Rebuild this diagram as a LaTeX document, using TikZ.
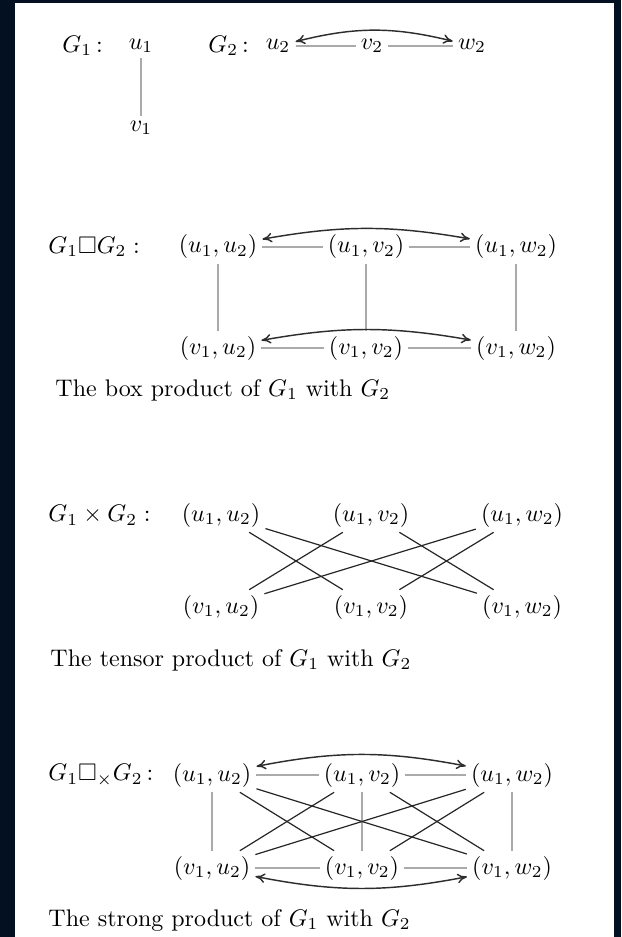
\documentclass[tikz,border=0pt]{standalone}
\usepackage{amssymb}
\usetikzlibrary{arrows.meta}
\definecolor{navy}{RGB}{2,16,33}
\definecolor{edgegray}{RGB}{170,170,170}
\definecolor{arcdark}{RGB}{45,45,45}
\begin{document}
\begin{tikzpicture}[x=0.41667pt,y=-0.41667pt,
  vx/.style={inner sep=2pt},
  lab/.style={anchor=west,inner sep=0pt},
  plain/.style={draw=edgegray,line width=0.6pt},
  arcedge/.style={draw=arcdark,line width=0.6pt,{To[length=4pt,width=4pt]}-{To[length=4pt,width=4pt]}},
  diag/.style={draw=black!85,line width=0.5pt}]
\fill[navy] (0,0) rectangle (621,937);
\fill[white] (15,3) rectangle (614,937);
\useasboundingbox (0,0) rectangle (621,937);

% Section 1: G1 and G2
\node[lab] (g1) at (62,46) {$G_1$\,:};
\node[vx] (a1) at (141,46) {$u_1$};
\node[vx] (b1) at (141,128) {$v_1$};
\node[lab] (g2) at (208,46) {$G_2$\,:};
\node[vx] (a2) at (278,46) {$u_2$};
\node[vx] (b2) at (372,46) {$v_2$};
\node[vx] (c2) at (472,46) {$w_2$};
\draw[plain] (a1) -- (b1);
\draw[plain] (a2) -- (b2);
\draw[plain] (b2) -- (c2);
\draw[arcedge] (a2) to[bend left=14] (c2);

% Section 2: box product
\node[lab] (gb) at (48,247) {$G_1\square G_2:$};
\node[vx] (bu1) at (218,247) {$(u_1,u_2)$};
\node[vx] (bu2) at (366,247) {$(u_1,v_2)$};
\node[vx] (bu3) at (516,247) {$(u_1,w_2)$};
\node[vx] (bv1) at (218,348) {$(v_1,u_2)$};
\node[vx] (bv2) at (366,348) {$(v_1,v_2)$};
\node[vx] (bv3) at (516,348) {$(v_1,w_2)$};
\draw[plain] (bu1) -- (bu2);
\draw[plain] (bu2) -- (bu3);
\draw[plain] (bv1) -- (bv2);
\draw[plain] (bv2) -- (bv3);
\draw[plain] (bu1) -- (bv1);
\draw[plain] (bu2) -- (bv2);
\draw[plain] (bu3) -- (bv3);
\draw[arcedge] (bu1) to[bend left=10] (bu3);
\draw[arcedge] (bv1) to[bend left=10] (bv3);
\node[lab] (cb) at (55,390) {The box product of $G_1$ with $G_2$};

% Section 3: tensor product
\node[lab] (gt) at (48,515) {$G_1\times G_2:$};
\node[vx] (tu1) at (221,515) {$(u_1,u_2)$};
\node[vx] (tu2) at (371,515) {$(u_1,v_2)$};
\node[vx] (tu3) at (522,515) {$(u_1,w_2)$};
\node[vx] (tv1) at (221,607) {$(v_1,u_2)$};
\node[vx] (tv2) at (371,607) {$(v_1,v_2)$};
\node[vx] (tv3) at (522,607) {$(v_1,w_2)$};
\draw[diag] (tu1) -- (tv2);
\draw[diag] (tu1) -- (tv3);
\draw[diag] (tu2) -- (tv1);
\draw[diag] (tu2) -- (tv3);
\draw[diag] (tu3) -- (tv1);
\draw[diag] (tu3) -- (tv2);
\node[lab] (ct) at (50,660) {The tensor product of $G_1$ with $G_2$};

% Section 4: strong product
\node[lab] (gs) at (48,775) {$G_1\square_{\times}G_2$\,:};
\node[vx] (su1) at (212,775) {$(u_1,u_2)$};
\node[vx] (su2) at (362,775) {$(u_1,v_2)$};
\node[vx] (su3) at (512,775) {$(u_1,w_2)$};
\node[vx] (sv1) at (212,868) {$(v_1,u_2)$};
\node[vx] (sv2) at (362,868) {$(v_1,v_2)$};
\node[vx] (sv3) at (512,868) {$(v_1,w_2)$};
\draw[plain,line width=0.9pt] (su1) -- (su2);
\draw[plain,line width=0.9pt] (su2) -- (su3);
\draw[plain,line width=0.9pt] (sv1) -- (sv2);
\draw[plain,line width=0.9pt] (sv2) -- (sv3);
\draw[plain] (su1) -- (sv1);
\draw[plain] (su2) -- (sv2);
\draw[plain] (su3) -- (sv3);
\draw[diag] (su1) -- (sv2);
\draw[diag] (su1) -- (sv3);
\draw[diag] (su2) -- (sv1);
\draw[diag] (su2) -- (sv3);
\draw[diag] (su3) -- (sv1);
\draw[diag] (su3) -- (sv2);
\draw[arcedge] (su1) to[bend left=11] (su3);
\draw[arcedge] (sv1) to[bend right=11] (sv3);
\node[lab] (cs) at (48,920) {The strong product of $G_1$ with $G_2$};
\end{tikzpicture}
\end{document}
